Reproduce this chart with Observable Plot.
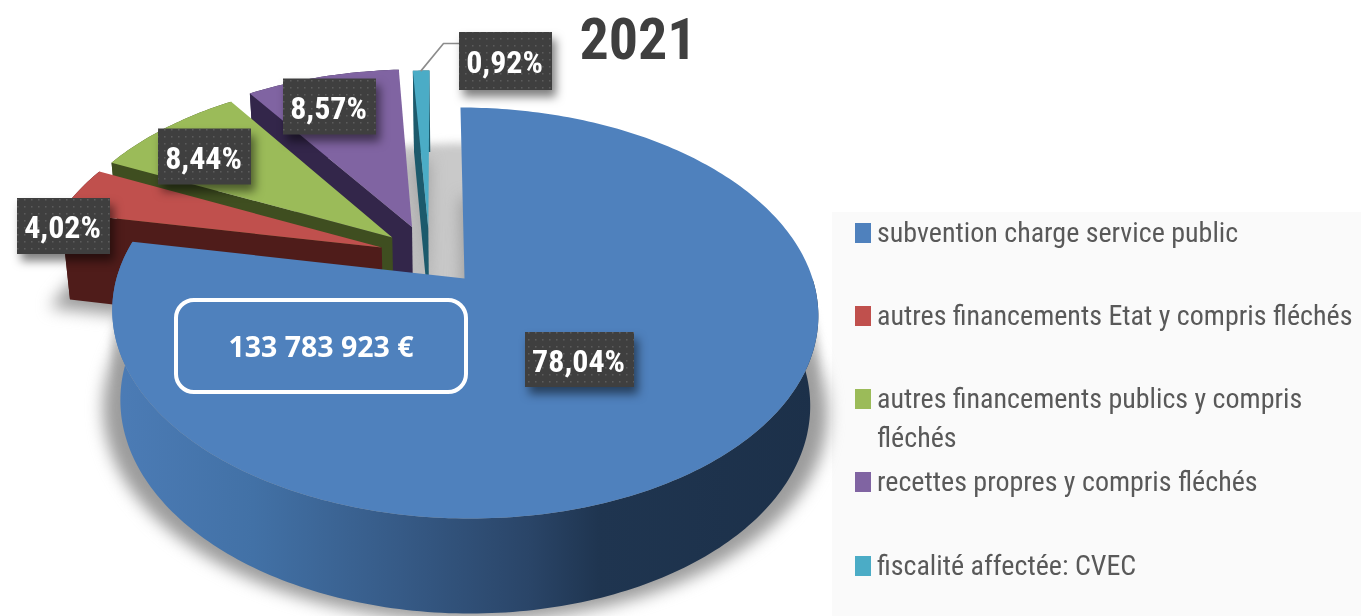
<!DOCTYPE html>
<html>
<head>
<meta charset="utf-8">
<script src="https://cdn.jsdelivr.net/npm/d3@7"></script>
<script src="https://cdn.jsdelivr.net/npm/@observablehq/plot@0.6"></script>
<style>
html,body{margin:0;padding:0;background:#fff;overflow:hidden}
svg{display:block}
</style>
</head>
<body>
<div id="chart"></div>
<script>
// Data
const categories = ["subvention charge service public","autres financements Etat y compris fléchés","autres financements publics y compris\nfléchés","recettes propres y compris fléchés","fiscalité affectée: CVEC"];
const shares = [78.04, 4.02, 8.44, 8.57, 0.92];
const title = "2021";
const totalLabel = "133 783 923 €";

// Styles
const topColors = ["#4f81bd","#c0504d","#9bbb59","#8064a2","#4bacc6"];
const sideColors = ["url(#blueSide)","#4f1c1a","#3f4e20","#33264a","#1c5a6c"];
const condensed = "'Roboto Condensed','Liberation Sans Narrow','DejaVu Sans Condensed','Open Sans',sans-serif";

// Layout
const explodeU = [0,-0.242,-0.212,-0.154,-0.105];
const explodeV = [0,0.159,0.2127,0.27,0.262];
const labelCx = [579.5,63.5,204.5,329.5,505.5];
const labelCy = [359.5,226,156.5,106.5,61];
const labelW = [109,93,93,93,93];
const labelH = [55,56,56,56,58];
const legendY = [223,306,389,472,556];

// Perspective of the pie's top plane
const K=.168,A=348,B=199.7,CX=464,CY=278,SH=-4.7;
const proj=(U,V)=>({x:CX+(A*U+SH*V)/(1+K*V),y:CY-B*V/(1+K*V),V});
const down=p=>({x:CX+(p.x-CX)*.977,y:p.y+89-6*p.V,V:p.V});
const pie=d3.pie().sort(null)(shares);
const arc=(i,from,to)=>{const pts=[];const n=Math.max(2,Math.ceil((to-from)/(Math.PI/180)));
  for(let k=0;k<=n;k++){const t=from+(to-from)*k/n;pts.push(proj(explodeU[i]+Math.sin(t),explodeV[i]+Math.cos(t)));}return pts;};
const apex=i=>proj(explodeU[i],explodeV[i]);

const poly=(pts,fill,tag)=>Plot.line(pts,{x:"x",y:"y",fill,stroke:"none",ariaLabel:()=>tag,curve:"linear-closed"});

const marks=[];
// defs
marks.push(()=>{
  const g=d3.create("svg:g");
  g.html(`<defs>
  <linearGradient id="blueSide" x1="0" x2="1" y1="0" y2="0">
    <stop offset="0" stop-color="#4c7cb6"/><stop offset=".2" stop-color="#4271a6"/>
    <stop offset=".41" stop-color="#365a86"/><stop offset=".59" stop-color="#2a4568"/>
    <stop offset=".69" stop-color="#1f3550"/><stop offset="1" stop-color="#1c3049"/>
  </linearGradient>
  <pattern id="dots" width="7" height="7" patternUnits="userSpaceOnUse">
    <rect width="7" height="7" fill="#3f3f3f"/><rect x="3" y="3" width="1.5" height="1.5" fill="#5c5c5c"/>
  </pattern></defs>`);
  return g.node();
});
// legend panel
marks.push(Plot.rect([0],{x1:()=>832,x2:()=>1361,y1:()=>212,y2:()=>616,fill:"#fafafa"}));
// shadows
const disc=d3.range(0,361,2).map(d=>{const t=d*Math.PI/180,p=proj(Math.sin(t),Math.cos(t));return {x:p.x,y:p.y+36};});
marks.push(poly(disc,"#c9c9c9","shadowDisc"));
pie.forEach((s,i)=>{
  const f=[apex(i),...arc(i,s.startAngle,s.endAngle)].map(down).map(p=>({x:CX+(p.x-CX)*1.05,y:p.y+8}));
  marks.push(poly(f,"#9c9c9c","shadowBase"));
});
// slices: back to front
[4,3,2,1,0].forEach(i=>{
  const s=pie[i],top=arc(i,s.startAngle,s.endAngle);
  const wallTop=i===0?top.slice(90):top;
  marks.push(poly([...wallTop,...wallTop.slice().reverse().map(down)],sideColors[i],"wall"));
  if(i>0){
    const a=apex(i),o=top[0];
    marks.push(poly([a,o,down(o),down(a)],sideColors[i],"face"));
  }
  marks.push(poly([apex(i),...top],topColors[i],"top"));
});
// leader
const tealOuter=arc(4,pie[4].startAngle,pie[4].endAngle);
const tealMid=tealOuter[Math.floor(tealOuter.length/2)];
const lb=[tealMid,{x:443,y:43},{x:labelCx[4]-labelW[4]/2,y:43}];
marks.push(Plot.line(lb,{x:"x",y:"y",stroke:"#8c8c8c",strokeWidth:1.6}));
// labels
const idx=d3.range(shares.length);
marks.push(Plot.rect(idx,{x1:i=>labelCx[i]-labelW[i]/2,x2:i=>labelCx[i]+labelW[i]/2,y1:i=>labelCy[i]-labelH[i]/2,y2:i=>labelCy[i]+labelH[i]/2,fill:"url(#dots)",ariaLabel:()=>"box"}));
marks.push(Plot.text(idx,{x:i=>labelCx[i]-1.5,y:i=>labelCy[i]+1.5,text:i=>shares[i].toFixed(2).replace(".",",")+"%",fill:"#fff",fontSize:32,fontWeight:"bold",fontFamily:condensed}));
// total annotation
marks.push(Plot.rect([0],{x1:()=>176,x2:()=>466,y1:()=>300,y2:()=>392,rx:18,fill:"none",stroke:"#fff",strokeWidth:4}));
marks.push(Plot.text([totalLabel],{x:()=>320.5,y:()=>347,text:d=>d,fill:"#fff",fontSize:28.5,fontWeight:"bold",fontFamily:"'Open Sans',sans-serif"}));
// title
marks.push(Plot.text([title],{x:()=>637.5,y:()=>40,text:d=>d,fill:"#3f3f3f",fontSize:58,fontWeight:"bold",fontFamily:condensed}));
// legend
marks.push(Plot.rect(idx,{x1:()=>855,x2:()=>871,y1:i=>legendY[i],y2:i=>legendY[i]+20,fill:i=>topColors[i]}));
marks.push(Plot.text(idx,{x:()=>876.5,y:i=>legendY[i]-9,text:i=>categories[i],textAnchor:"start",lineAnchor:"top",lineHeight:39/28,fill:"#595959",fontSize:28,fontFamily:condensed}));

const chart=Plot.plot({width:1361,height:616,margin:0,
  x:{type:"linear",domain:[0,1361],range:[0,1361],axis:null},
  y:{type:"linear",domain:[0,616],range:[0,616],axis:null},
  style:{background:"#fff",overflow:"hidden"},
  marks});
d3.select(chart).selectAll('[aria-label="shadowDisc"]').style("filter","blur(4px)");
d3.select(chart).selectAll('[aria-label="shadowBase"]').style("filter","blur(8px)");
d3.select(chart).selectAll('[aria-label="box"]').style("filter","drop-shadow(4px 7px 5px rgba(0,0,0,.5))");
d3.select(chart).style("filter","blur(0.6px)");
document.getElementById("chart").appendChild(chart);
</script>
</body>
</html>
